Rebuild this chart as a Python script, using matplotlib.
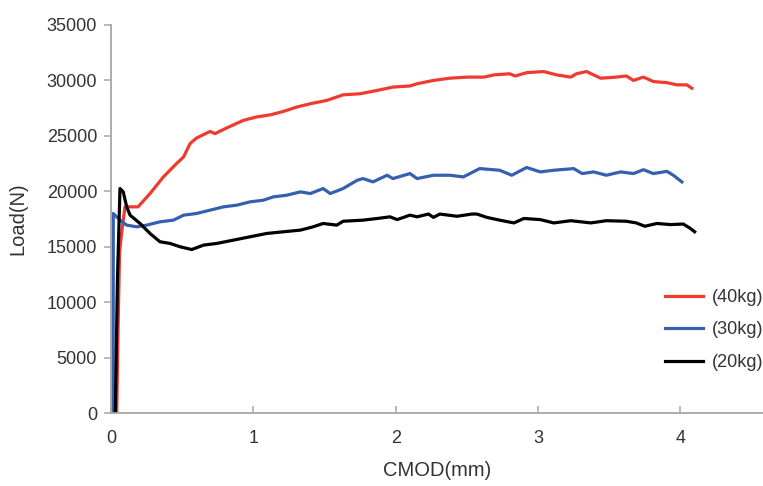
import matplotlib
matplotlib.use("Agg")
import matplotlib.pyplot as plt

# CMOD (mm) and load (N)
cmod_40 = [0.04, 0.05, 0.06, 0.075, 0.098, 0.19, 0.274, 0.368, 0.46, 0.51, 0.555, 0.60,
           0.696, 0.73, 0.81, 0.93, 1.02, 1.12, 1.21, 1.305, 1.40, 1.516, 1.63, 1.75,
           1.87, 1.98, 2.10, 2.15, 2.265, 2.38, 2.50, 2.62, 2.69, 2.80, 2.84, 2.92,
           3.04, 3.13, 3.23, 3.27, 3.34, 3.44, 3.55, 3.62, 3.67, 3.74, 3.81, 3.905,
           3.975, 4.045, 4.08]
load_40 = [0, 8000, 14500, 16300, 18600, 18600, 19800, 21300, 22500, 23100, 24300, 24800,
           25400, 25200, 25700, 26400, 26700, 26900, 27200, 27600, 27900, 28200, 28700, 28800,
           29100, 29400, 29500, 29700, 30000, 30200, 30300, 30300, 30500, 30600, 30400, 30700,
           30800, 30500, 30300, 30600, 30800, 30200, 30300, 30400, 30000, 30300, 29900, 29800,
           29600, 29600, 29300]

cmod_30 = [0.015, 0.016, 0.063, 0.11, 0.18, 0.25, 0.344, 0.438, 0.51, 0.60, 0.696, 0.79,
           0.883, 0.977, 1.07, 1.14, 1.235, 1.33, 1.40, 1.49, 1.54, 1.63, 1.73, 1.77,
           1.84, 1.94, 1.98, 2.10, 2.15, 2.265, 2.38, 2.475, 2.59, 2.73, 2.815, 2.92,
           3.015, 3.11, 3.25, 3.31, 3.39, 3.48, 3.58, 3.67, 3.74, 3.81, 3.905, 3.95, 4.01]
load_30 = [0, 18000, 17400, 16950, 16800, 16950, 17250, 17400, 17850, 18000, 18300, 18600,
           18750, 19050, 19200, 19500, 19650, 19950, 19800, 20250, 19800, 20250, 21000, 21150,
           20850, 21450, 21150, 21600, 21150, 21450, 21450, 21300, 22050, 21900, 21450, 22150,
           21750, 21900, 22050, 21600, 21750, 21450, 21750, 21600, 21950, 21600, 21800, 21450, 20850]

cmod_20 = [0.03, 0.045, 0.063, 0.086, 0.11, 0.134, 0.204, 0.274, 0.344, 0.415, 0.485, 0.567,
           0.65, 0.743, 0.86, 0.977, 1.094, 1.21, 1.33, 1.42, 1.49, 1.586, 1.63, 1.77,
           1.87, 1.96, 2.01, 2.10, 2.15, 2.23, 2.265, 2.31, 2.43, 2.535, 2.57, 2.64,
           2.73, 2.83, 2.90, 3.015, 3.11, 3.23, 3.37, 3.48, 3.62, 3.69, 3.75, 3.835,
           3.93, 4.02, 4.07, 4.10]
load_20 = [0, 12000, 20250, 19950, 18600, 17850, 17100, 16200, 15450, 15300, 15000, 14750,
           15150, 15300, 15600, 15900, 16200, 16350, 16500, 16800, 17100, 16950, 17300, 17400,
           17550, 17700, 17450, 17850, 17700, 17950, 17650, 17950, 17750, 17950, 17950, 17650,
           17400, 17150, 17550, 17450, 17150, 17350, 17150, 17350, 17300, 17150, 16850, 17100,
           17000, 17050, 16650, 16350]

series_labels = ["(40kg)", "(30kg)", "(20kg)"]
series_colors = ["#ee3a2f", "#3560b0", "#000000"]

x_ticks = [0, 1, 2, 3, 4]
y_ticks = [0, 5000, 10000, 15000, 20000, 25000, 30000, 35000]

plt.rcParams['font.family'] = ['Liberation Sans', 'DejaVu Sans']

fig = plt.figure(figsize=(7.63, 4.86), dpi=100)
ax = fig.add_axes([0.1455, 0.150, 0.8545, 0.7986])

for xs, ys, lab, col in zip([cmod_40, cmod_30, cmod_20], [load_40, load_30, load_20],
                            series_labels, series_colors):
    ax.plot(xs, ys, color=col, linewidth=2.3, label=lab, solid_joinstyle='round')

ax.set_xlim(0, 4.58)
ax.set_ylim(0, 35000)
ax.set_xticks(x_ticks)
ax.set_yticks(y_ticks)

grey = "#a6a6a6"
for side in ["top", "right"]:
    ax.spines[side].set_visible(False)
for side in ["left", "bottom"]:
    ax.spines[side].set_color(grey)
    ax.spines[side].set_linewidth(1.3)

ax.tick_params(axis='x', direction='in', length=5, color=grey, width=1.1,
               labelsize=13, labelcolor="#333333", pad=12)
ax.tick_params(axis='y', direction='out', length=5, color=grey, width=1.1,
               labelsize=13, labelcolor="#333333", pad=5)

ax.set_xlabel("CMOD(mm)", fontsize=14.5, color="#333333", labelpad=10)
ax.set_ylabel("Load(N)", fontsize=14.5, color="#333333", labelpad=14)

leg = ax.legend(loc='center left', bbox_to_anchor=(0.8716, 0.321), bbox_transform=fig.transFigure,
                frameon=False, fontsize=13, handlelength=2.1, handletextpad=0.5,
                labelspacing=0.85, borderaxespad=0, borderpad=0)
for t in leg.get_texts():
    t.set_color("#333333")
for h in leg.get_lines():
    h.set_linewidth(2.3)

fig.savefig("out.png", dpi=100)
